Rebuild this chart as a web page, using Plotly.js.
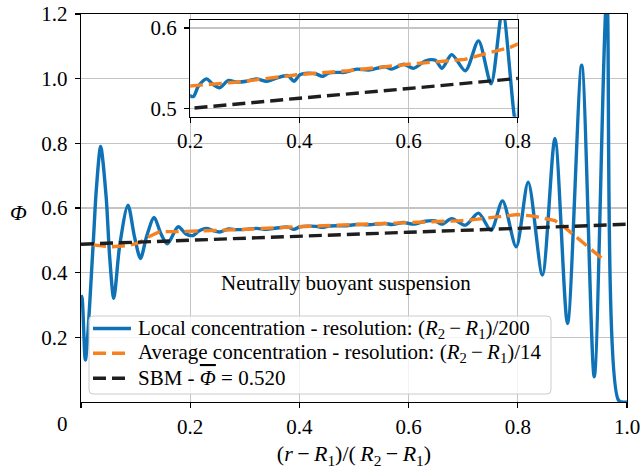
<!DOCTYPE html>
<html>
<head>
<meta charset="utf-8">
<script src="https://cdn.plot.ly/plotly-3.0.1.min.js"></script>
<style>
  html, body { margin: 0; padding: 0; background: #fff; }
  #plot { width: 641px; height: 472px; }
</style>
</head>
<body>
<div id="plot"></div>
<script>
// Local volume fraction profile across the gap, fine bins (R2-R1)/200
const localX = [0.000, 0.002, 0.008, 0.022, 0.028, 0.036, 0.046, 0.0525, 0.060, 0.071, 0.086,
  0.098, 0.109, 0.120, 0.134, 0.146, 0.158, 0.178, 0.192, 0.2055, 0.215, 0.230, 0.242, 0.254,
  0.270, 0.285, 0.303, 0.321, 0.340, 0.358, 0.379, 0.390, 0.401, 0.416, 0.431, 0.442, 0.453,
  0.471, 0.483, 0.505, 0.527, 0.557, 0.569, 0.591, 0.609, 0.630, 0.649, 0.661, 0.679, 0.704,
  0.728, 0.751, 0.772, 0.797, 0.819, 0.845, 0.868, 0.891, 0.917, 0.940, 0.963, 0.985, 1.000];
const localPhi = [0.330, 0.321, 0.130, 0.480, 0.656, 0.790, 0.635, 0.449, 0.321, 0.486, 0.609,
  0.511, 0.444, 0.511, 0.571, 0.522, 0.489, 0.542, 0.520, 0.515, 0.528, 0.537, 0.530, 0.526,
  0.535, 0.533, 0.534, 0.537, 0.534, 0.538, 0.541, 0.534, 0.542, 0.544, 0.543, 0.540, 0.544,
  0.545, 0.545, 0.549, 0.548, 0.552, 0.549, 0.555, 0.550, 0.559, 0.560, 0.550, 0.567, 0.547,
  0.584, 0.531, 0.622, 0.480, 0.680, 0.393, 0.815, 0.243, 1.042, 0.078, 1.250, 0.004, 0.000];

// Averaged profile, coarse bins (R2-R1)/14
const avgX = [0.022, 0.056, 0.086, 0.107, 0.126, 0.144, 0.178, 0.200, 0.288, 0.395, 0.489,
  0.599, 0.703, 0.746, 0.786, 0.800, 0.828, 0.868, 0.886, 0.899, 0.951, 0.960];
const avgPhi = [0.486, 0.480, 0.484, 0.493, 0.513, 0.527, 0.527, 0.528, 0.533, 0.542, 0.547,
  0.555, 0.561, 0.569, 0.576, 0.580, 0.575, 0.561, 0.540, 0.522, 0.449, 0.436];

// Suspension balance model prediction, mean volume fraction 0.520
const sbmX = [0.0, 0.2, 0.4, 0.6, 0.8, 1.0];
const sbmPhi = [0.488, 0.501, 0.513, 0.525, 0.537, 0.550];

// Tick labels
const mainXTicks = [0, 0.2, 0.4, 0.6, 0.8, 1.0];
const mainXText = ['', '0.2', '0.4', '0.6', '0.8', '1.0'];
const mainYTicks = [0.2, 0.4, 0.6, 0.8, 1.0, 1.2];
const mainYText = ['0.2', '0.4', '0.6', '0.8', '1.0', '1.2'];
const insetXTicks = [0.2, 0.4, 0.6, 0.8];
const insetXText = ['0.2', '0.4', '0.6', '0.8'];
const insetYTicks = [0.5, 0.6];
const insetYText = ['0.5', '0.6'];

const SERIF = 'Liberation Serif, Times New Roman, serif';
const BLUE = '#0f72b6';
const ORANGE = '#f7801f';
const BLACK = '#1e1e1e';
const GRID = '#c4c4c4';
const LW = 3.4;
const DASH = '13px,6px';
const MINUS = '\u2009\u2212\u2009';

const gapText = `(<i>R</i><sub>2</sub>${MINUS}<i>R</i><sub>1</sub>)`;
const legendNames = [
  `Local concentration - resolution: ${gapText}/200`,
  `Average concentration - resolution: ${gapText}/14`,
  'SBM - <span style="text-decoration:overline"><i>\u03A6</i></span> = 0.520'
];
const legendColors = [BLUE, ORANGE, BLACK];
const legendDashes = ['solid', DASH, DASH];

function series(xs, ys, color, dash, name, axes) {
  return {
    x: xs, y: ys, type: 'scatter', mode: 'lines', name: name,
    xaxis: axes[0], yaxis: axes[1], showlegend: false,
    line: { color: color, width: LW, dash: dash, shape: dash === 'solid' ? 'spline' : 'linear', smoothing: 0.8 },
    hoverinfo: 'skip'
  };
}

const traces = [
  series(localX, localPhi, BLUE, 'solid', legendNames[0], ['x', 'y']),
  series(avgX, avgPhi, ORANGE, DASH, legendNames[1], ['x', 'y']),
  series(sbmX, sbmPhi, BLACK, DASH, legendNames[2], ['x', 'y']),
  series(localX, localPhi, BLUE, 'solid', legendNames[0], ['x2', 'y2']),
  series(avgX, avgPhi, ORANGE, DASH, legendNames[1], ['x2', 'y2']),
  series(sbmX, sbmPhi, BLACK, DASH, legendNames[2], ['x2', 'y2'])
];

const axisCommon = {
  showline: true, linecolor: '#000', linewidth: 1.3, mirror: true,
  ticks: 'outside', ticklen: 5, tickwidth: 1.2, tickcolor: '#000',
  showgrid: true, gridcolor: GRID, gridwidth: 1.4, zeroline: false,
  tickfont: { family: SERIF, size: 21, color: '#000' }
};

// Plot-area size in pixels, used to place the legend box in paper units
const PLOT_W = 641 - 81 - 14;
const PLOT_H = 472 - 14 - 70;
const pxX = px => (px - 81) / PLOT_W;
const pxY = py => (402 - py) / PLOT_H;

// Legend frame: rounded, semi-transparent white box
function roundedBox(x0, y0, x1, y1, r) {
  const L = pxX(x0), R = pxX(x1), T = pxY(y0), B = pxY(y1);
  const rx = r / PLOT_W, ry = r / PLOT_H;
  return `M${L + rx},${T} L${R - rx},${T} Q${R},${T} ${R},${T - ry} L${R},${B + ry} Q${R},${B} ${R - rx},${B} ` +
         `L${L + rx},${B} Q${L},${B} ${L},${B + ry} L${L},${T - ry} Q${L},${T} ${L + rx},${T} Z`;
}

const legendRows = [328.5, 353.3, 378.3];
const shapes = [{
  type: 'path', xref: 'paper', yref: 'paper', layer: 'above',
  path: roundedBox(89, 316, 551, 394, 4),
  fillcolor: 'rgba(255,255,255,0.8)', line: { color: '#cccccc', width: 1 }
}];
const annotations = [
  { text: 'Neutrally buoyant suspension', x: 0.486, y: 0.368, xref: 'x', yref: 'y',
    xanchor: 'center', yanchor: 'middle',
    showarrow: false, font: { family: SERIF, size: 21, color: '#000' } },
  { text: '<i>\u03A6</i>', x: pxX(18), y: pxY(212), xref: 'paper', yref: 'paper',
    xanchor: 'center', yanchor: 'middle',
    showarrow: false, font: { family: SERIF, size: 22, color: '#000' } },
  { text: '0', x: pxX(62), y: pxY(424), xref: 'paper', yref: 'paper',
    xanchor: 'center', yanchor: 'middle',
    showarrow: false, font: { family: SERIF, size: 21, color: '#000' } }
];
legendNames.forEach((name, i) => {
  const yy = pxY(legendRows[i]);
  shapes.push({
    type: 'line', xref: 'paper', yref: 'paper', layer: 'above',
    x0: pxX(93), x1: pxX(131), y0: yy, y1: yy,
    line: { color: legendColors[i], width: LW, dash: legendDashes[i] }
  });
  annotations.push({
    text: name, x: pxX(136), y: yy, xref: 'paper', yref: 'paper',
    xanchor: 'left', yanchor: 'middle', showarrow: false,
    font: { family: SERIF, size: 21, color: '#000' }
  });
});

const layout = {
  width: 641, height: 472,
  margin: { l: 81, r: 14, t: 14, b: 70, pad: 0 },
  paper_bgcolor: '#fff', plot_bgcolor: '#fff',
  font: { family: SERIF, size: 21, color: '#000' },
  showlegend: false,
  xaxis: Object.assign({}, axisCommon, {
    domain: [0, 1], range: [0, 1], tickmode: 'array', tickvals: mainXTicks, ticktext: mainXText,
    anchor: 'y',
    title: { text: `(<i>r</i>${MINUS}<i>R</i><sub>1</sub>)/(${'\u2009'}<i>R</i><sub>2</sub>${MINUS}<i>R</i><sub>1</sub>)`,
             font: { family: SERIF, size: 22, color: '#000' }, standoff: 8 }
  }),
  yaxis: Object.assign({}, axisCommon, {
    domain: [0, 1], range: [0, 1.2], tickmode: 'array', tickvals: mainYTicks, ticktext: mainYText,
    anchor: 'x', ticklabelstandoff: 3
  }),
  xaxis2: Object.assign({}, axisCommon, {
    domain: [0.2, 0.8], range: [0.2, 0.8], tickmode: 'array', tickvals: insetXTicks, ticktext: insetXText,
    anchor: 'y2'
  }),
  yaxis2: Object.assign({}, axisCommon, {
    domain: [0.735, 0.985], range: [0.49, 0.61], tickmode: 'array', tickvals: insetYTicks, ticktext: insetYText,
    anchor: 'x2', ticklabelstandoff: 3
  }),
  shapes: shapes,
  annotations: annotations
};

Plotly.newPlot('plot', traces, layout, { staticPlot: true, displayModeBar: false });
</script>
</body>
</html>
